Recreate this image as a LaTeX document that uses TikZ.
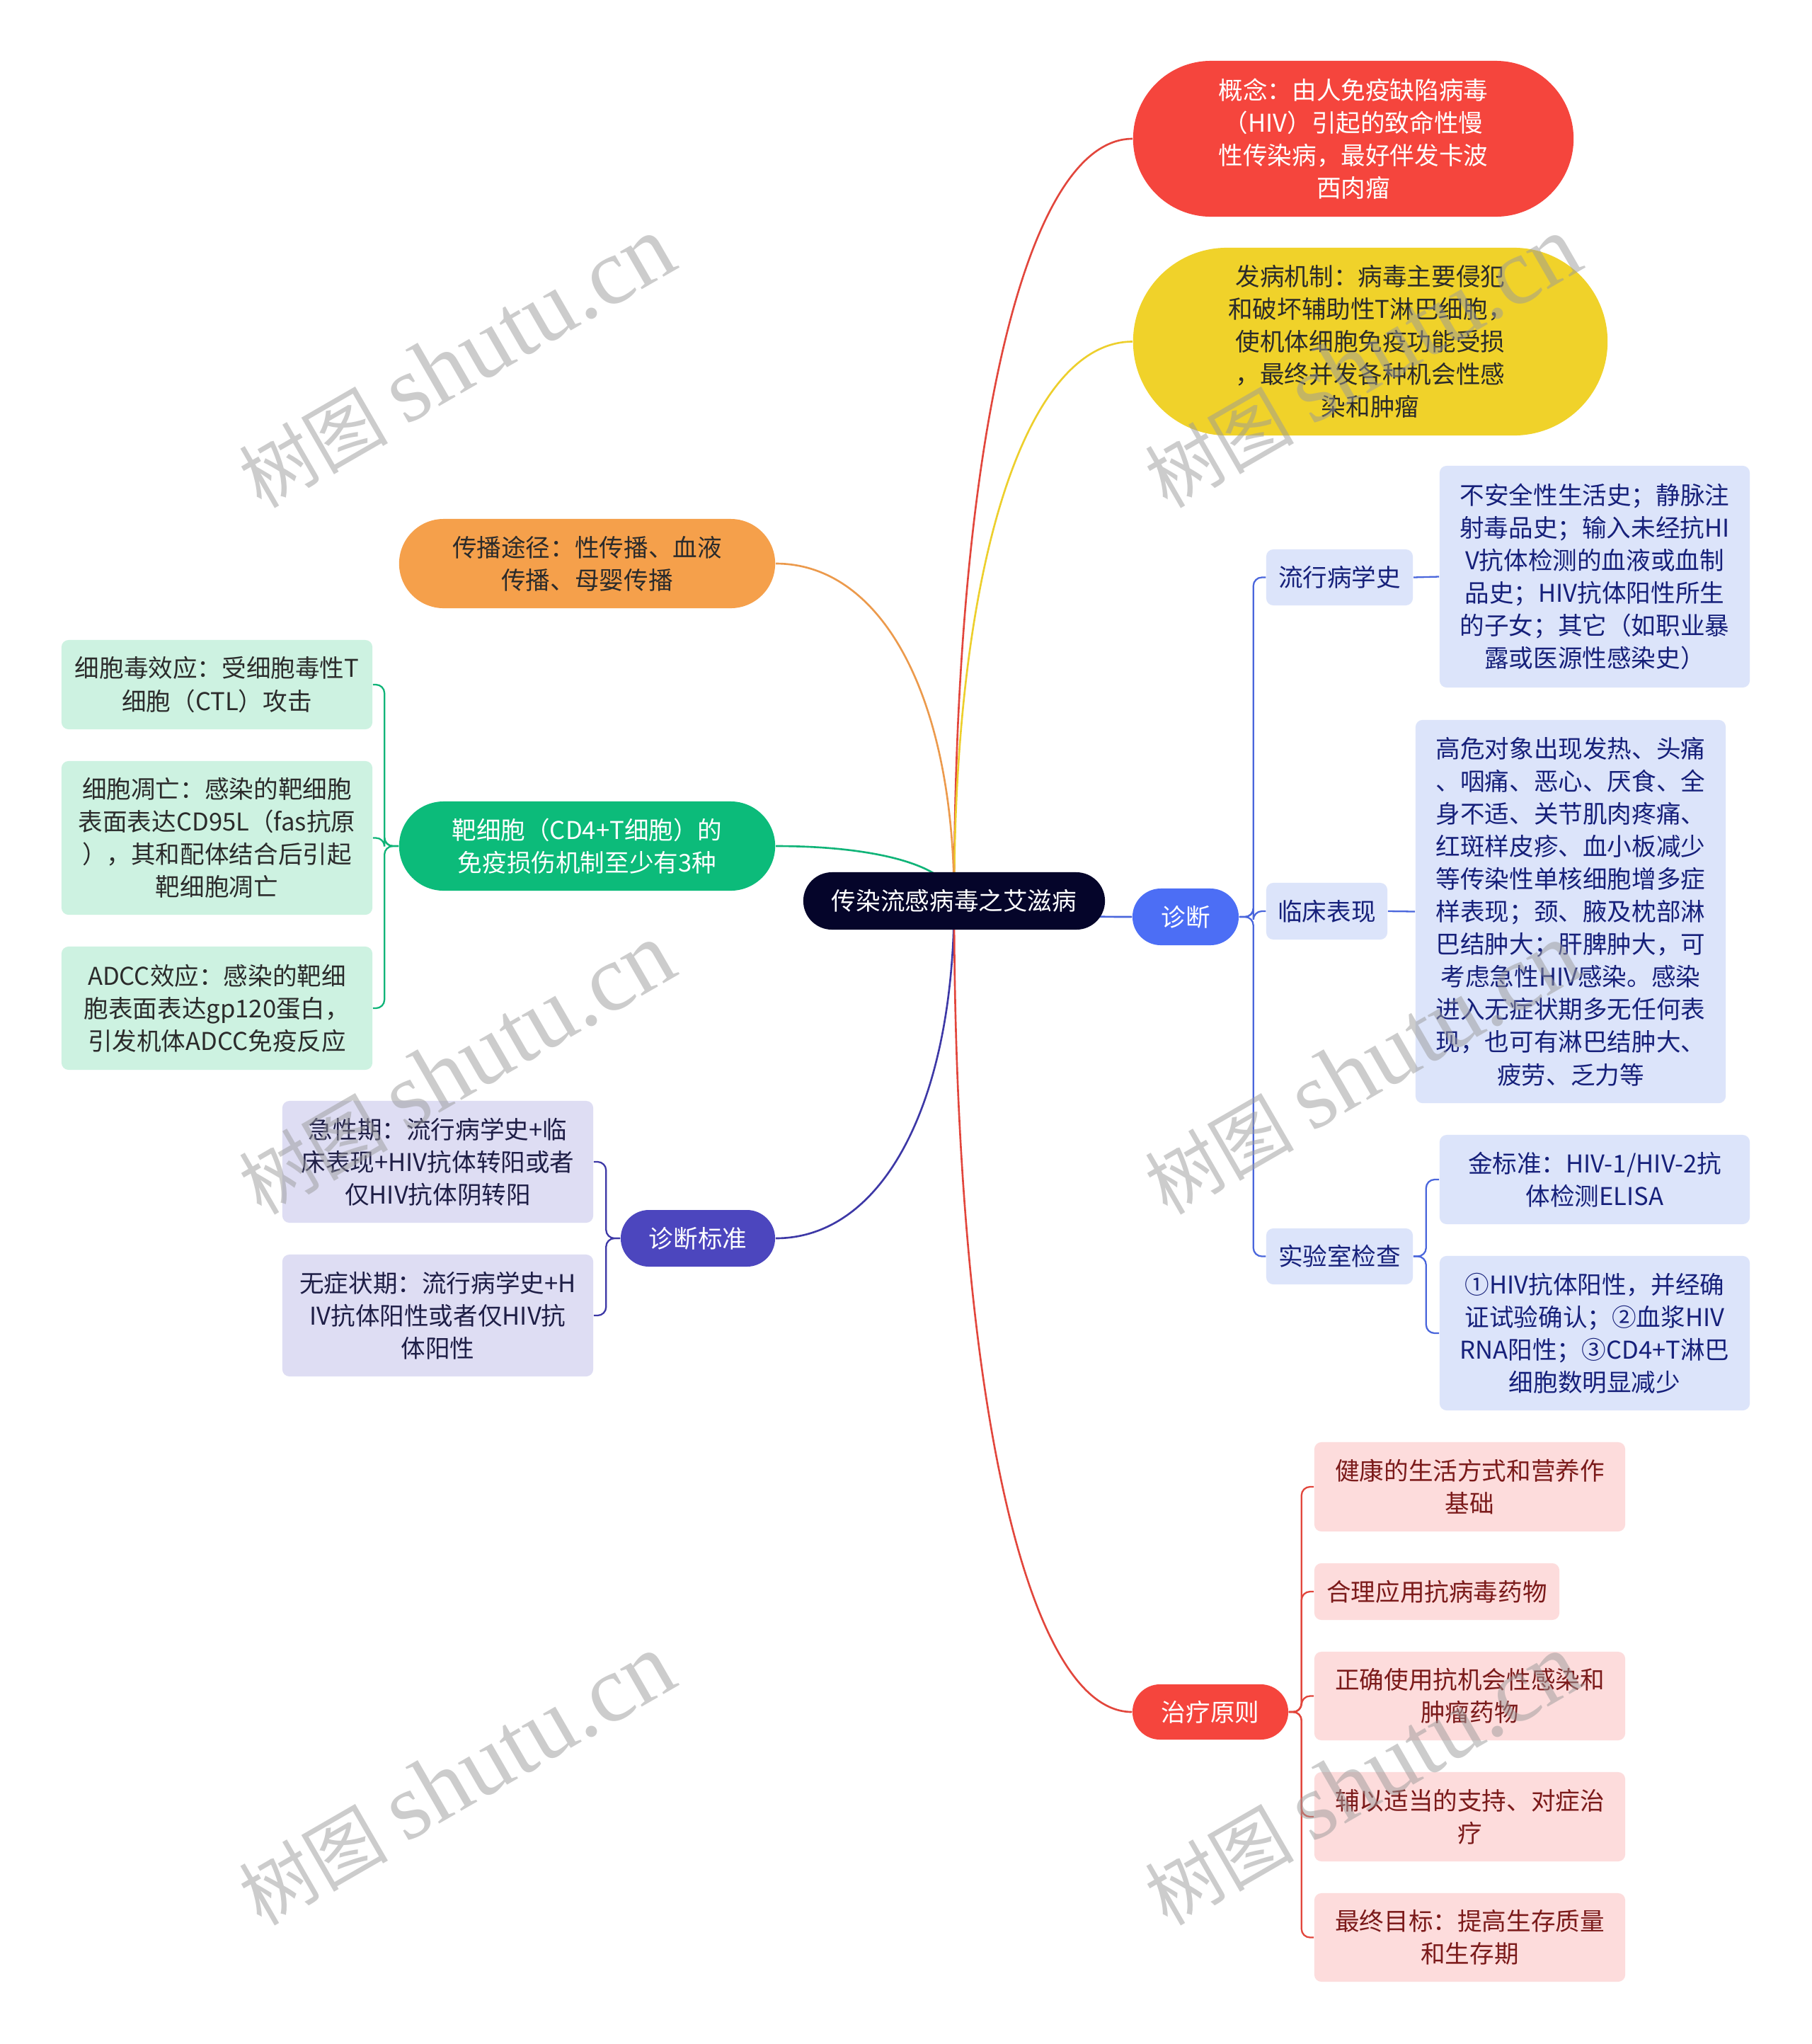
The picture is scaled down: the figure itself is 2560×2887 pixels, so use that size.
\documentclass[tikz,border=0pt]{standalone}
\usepackage{fontspec}
\setmainfont{Noto Sans CJK SC}
\newfontfamily\wmcjk{Noto Sans CJK SC}
\newfontfamily\wmlat{Liberation Serif}
\usetikzlibrary{calc,backgrounds}
\definecolor{cCenter}{HTML}{05052A}
\definecolor{cRed}{HTML}{F5453D}
\definecolor{cYellow}{HTML}{F0D22A}
\definecolor{cOrange}{HTML}{F5A04B}
\definecolor{cGreen}{HTML}{0CBB7A}
\definecolor{cTeal}{HTML}{CDF2E1}
\definecolor{cIndigo}{HTML}{4C46BE}
\definecolor{cLav}{HTML}{DEDDF3}
\definecolor{cBlue}{HTML}{4C6EF5}
\definecolor{cLBlue}{HTML}{DCE4FA}
\definecolor{cPink}{HTML}{FDDCDC}
\definecolor{tDark}{HTML}{2B2B2B}
\definecolor{tNavy}{HTML}{16207A}
\definecolor{tLav}{HTML}{1E1E46}
\definecolor{tMaroon}{HTML}{7B1A1A}
\definecolor{lRed}{HTML}{E2463C}
\definecolor{lYellow}{HTML}{EDCF2C}
\definecolor{lOrange}{HTML}{EC9A4C}
\definecolor{lGreen}{HTML}{10B478}
\definecolor{lBlue}{HTML}{4A66DC}
\definecolor{lIndigo}{HTML}{3D38A6}
\definecolor{wmgray}{HTML}{9A9A9A}
\newcommand\mmcurve[3]{\draw[#1] (#2) .. controls ($(#2)!0.6!(#2|-#3)$) and ($(#3)!0.6!(#2|-#3)$) .. (#3);}
\begin{document}
\begin{tikzpicture}[x=0.01cm,y=-0.01cm,
  base/.style={inner sep=0pt, align=center, font=\fontsize{9.84}{13.1}\selectfont},
  boxed/.style={base, rounded corners=0.1cm},
  mainline/.style={line width=0.75pt},
  subline/.style={line width=0.65pt, rounded corners=0.12cm},
  wm/.style={inner sep=0pt, rotate=30, text=wmgray, text opacity=0.5}]
\useasboundingbox (0,0) rectangle (2560,2887);

% central topic
\node[base, fill=cCenter, text=white, minimum width=4.26cm, minimum height=0.81cm, rounded corners=0.405cm] (ctr) at (1348,1272.5) {传染流感病毒之艾滋病};

% main branches
\node[base, fill=cRed, text=white, minimum width=6.22cm, minimum height=2.20cm, rounded corners=1.1cm] (concept) at (1912,196) {概念：由人免疫缺陷病毒\\（HIV）引起的致命性慢\\性传染病，最好伴发卡波\\西肉瘤};
\node[base, fill=cYellow, text=tDark, minimum width=6.70cm, minimum height=2.65cm, rounded corners=1.325cm] (patho) at (1936,482.5) {发病机制：病毒主要侵犯\\和破坏辅助性T淋巴细胞，\\使机体细胞免疫功能受损\\，最终并发各种机会性感\\染和肿瘤};
\node[base, fill=cOrange, text=tDark, minimum width=5.31cm, minimum height=1.26cm, rounded corners=0.63cm] (route) at (829.5,796) {传播途径：性传播、血液\\传播、母婴传播};
\node[base, fill=cGreen, text=white, minimum width=5.31cm, minimum height=1.26cm, rounded corners=0.63cm] (target) at (829.5,1195) {靶细胞（CD4+T细胞）的\\免疫损伤机制至少有3种};
\node[base, fill=cBlue, text=white, minimum width=1.50cm, minimum height=0.80cm, rounded corners=0.40cm] (diag) at (1675,1295) {诊断};
\node[base, fill=cIndigo, text=white, minimum width=2.18cm, minimum height=0.80cm, rounded corners=0.40cm] (std) at (986,1749) {诊断标准};
\node[base, fill=cRed, text=white, minimum width=2.20cm, minimum height=0.78cm, rounded corners=0.39cm] (treat) at (1710,2418) {治疗原则};

% target-cell mechanisms
\node[boxed, fill=cTeal, text=tDark, minimum width=4.39cm, minimum height=1.26cm] (t1) at (306.5,967) {细胞毒效应：受细胞毒性T\\细胞（CTL）攻击};
\node[boxed, fill=cTeal, text=tDark, minimum width=4.39cm, minimum height=2.17cm] (t2) at (306.5,1183.5) {细胞凋亡：感染的靶细胞\\表面表达CD95L（fas抗原\\），其和配体结合后引起\\靶细胞凋亡};
\node[boxed, fill=cTeal, text=tDark, minimum width=4.39cm, minimum height=1.74cm] (t3) at (306.5,1424) {ADCC效应：感染的靶细\\胞表面表达gp120蛋白，\\引发机体ADCC免疫反应};

% diagnostic standard
\node[boxed, fill=cLav, text=tLav, minimum width=4.39cm, minimum height=1.72cm] (acute) at (618.5,1641) {急性期：流行病学史+临\\床表现+HIV抗体转阳或者\\仅HIV抗体阴转阳};
\node[boxed, fill=cLav, text=tLav, minimum width=4.39cm, minimum height=1.72cm] (asym) at (618.5,1858) {无症状期：流行病学史+H\\IV抗体阳性或者仅HIV抗\\体阳性};

% diagnosis
\node[boxed, fill=cLBlue, text=tNavy, minimum width=2.07cm, minimum height=0.79cm] (epi) at (1892.5,815.5) {流行病学史};
\node[boxed, fill=cLBlue, text=tNavy, minimum width=1.71cm, minimum height=0.80cm] (clin) at (1874.5,1287) {临床表现};
\node[boxed, fill=cLBlue, text=tNavy, minimum width=2.07cm, minimum height=0.79cm] (lab) at (1892.5,1774.5) {实验室检查};
\node[boxed, fill=cLBlue, text=tNavy, minimum width=4.38cm, minimum height=3.13cm] (epiD) at (2253,814.5) {不安全性生活史；静脉注\\射毒品史；输入未经抗HI\\V抗体检测的血液或血制\\品史；HIV抗体阳性所生\\的子女；其它（如职业暴\\露或医源性感染史）};
\node[boxed, fill=cLBlue, text=tNavy, minimum width=4.38cm, minimum height=5.41cm] (clinD) at (2219,1287.5) {高危对象出现发热、头痛\\、咽痛、恶心、厌食、全\\身不适、关节肌肉疼痛、\\红斑样皮疹、血小板减少\\等传染性单核细胞增多症\\样表现；颈、腋及枕部淋\\巴结肿大；肝脾肿大，可\\考虑急性HIV感染。感染\\进入无症状期多无任何表\\现，也可有淋巴结肿大、\\疲劳、乏力等};
\node[boxed, fill=cLBlue, text=tNavy, minimum width=4.38cm, minimum height=1.26cm] (gold) at (2253,1666) {金标准：HIV-1/HIV-2抗\\体检测ELISA};
\node[boxed, fill=cLBlue, text=tNavy, minimum width=4.38cm, minimum height=2.18cm] (conf) at (2253,1883) {①HIV抗体阳性，并经确\\证试验确认；②血浆HIV\\RNA阳性；③CD4+T淋巴\\细胞数明显减少};

% treatment
\node[boxed, fill=cPink, text=tMaroon, minimum width=4.39cm, minimum height=1.26cm] (tr1) at (2076.5,2100) {健康的生活方式和营养作\\基础};
\node[boxed, fill=cPink, text=tMaroon, minimum width=3.46cm, minimum height=0.80cm] (tr2) at (2030,2248) {合理应用抗病毒药物};
\node[boxed, fill=cPink, text=tMaroon, minimum width=4.39cm, minimum height=1.25cm] (tr3) at (2076.5,2395.5) {正确使用抗机会性感染和\\肿瘤药物};
\node[boxed, fill=cPink, text=tMaroon, minimum width=4.39cm, minimum height=1.26cm] (tr4) at (2076.5,2566) {辅以适当的支持、对症治\\疗};
\node[boxed, fill=cPink, text=tMaroon, minimum width=4.39cm, minimum height=1.25cm] (tr5) at (2076.5,2736.5) {最终目标：提高生存质量\\和生存期};

\begin{scope}[on background layer]
  \fill[white] (0,0) rectangle (2560,2887);
  \mmcurve{mainline, lRed}{ctr.center}{concept.west}
  \mmcurve{mainline, lYellow}{ctr.center}{patho.west}
  \mmcurve{mainline, lOrange}{ctr.center}{route.east}
  \mmcurve{mainline, lGreen}{ctr.center}{target.east}
  \mmcurve{mainline, lBlue}{ctr.center}{diag.west}
  \mmcurve{mainline, lIndigo}{ctr.center}{std.east}
  \mmcurve{mainline, lRed}{ctr.center}{treat.west}
  \foreach \c in {t1,t2,t3} \draw[subline, lGreen] (target.west) -- ++(-20,0) |- (\c.east);
  \foreach \c in {acute,asym} \draw[subline, lIndigo] (std.west) -- ++(-20,0) |- (\c.east);
  \foreach \c in {epi,clin,lab} \draw[subline, lBlue] (diag.east) -- ++(20,0) |- (\c.west);
  \draw[subline, lBlue] (epi.east) -- (epiD.west);
  \draw[subline, lBlue] (clin.east) -- (clinD.west);
  \foreach \c in {gold,conf} \draw[subline, lBlue] (lab.east) -- ++(18,0) |- (\c.west);
  \foreach \c in {tr1,tr2,tr3,tr4,tr5} \draw[subline, lRed] (treat.east) -- ++(18,0) |- (\c.west);
\end{scope}

% watermarks
\foreach \n/\x/\y in {wa/645/512, wb/1925/512, wc/645/1510, wd/1925/1510, we/645/2514, wf/1925/2514}
  \node[wm] (\n) at (\x,\y) {{\wmcjk\fontsize{30}{30}\selectfont 树图}\hspace{0.25cm}{\wmlat\fontsize{38}{38}\selectfont shutu.cn}};
\end{tikzpicture}
\end{document}
